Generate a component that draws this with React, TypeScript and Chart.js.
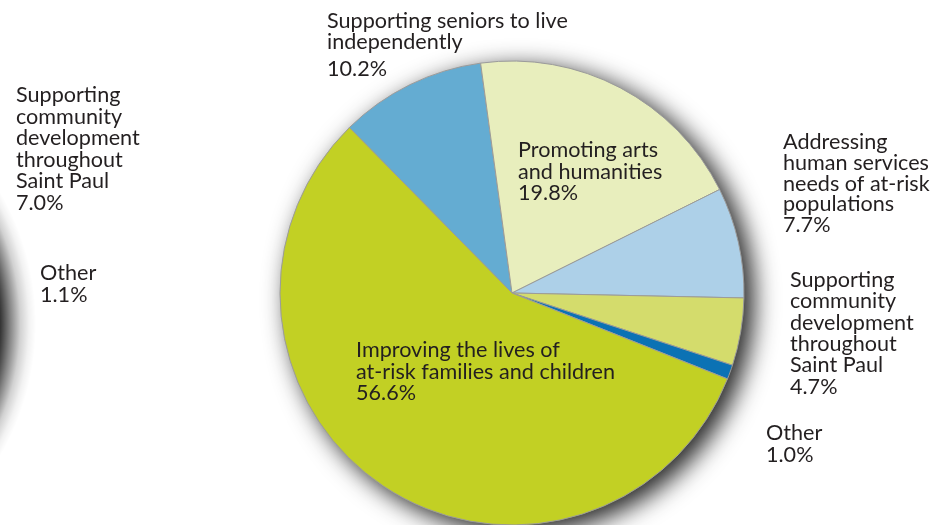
import React, { useEffect, useRef } from "react";
import { Chart, registerables } from "chart.js";

Chart.register(...registerables);

const categories = [
  "Supporting seniors to live independently",
  "Promoting arts and humanities",
  "Addressing human services needs of at-risk populations",
  "Supporting community development throughout Saint Paul",
  "Other",
  "Improving the lives of at-risk families and children",
];
const values = [10.2, 19.8, 7.7, 4.7, 1.0, 56.6];
const colors = ["#64acd2", "#e8eebd", "#add0e8", "#d4dc6c", "#0b72b4", "#c2d024"];

const labelLines = [
  ["Supporting seniors to live", "independently"],
  ["Promoting arts", "and humanities"],
  ["Addressing", "human services", "needs of at-risk", "populations"],
  ["Supporting", "community", "development", "throughout", "Saint Paul"],
  ["Other"],
  ["Improving the lives of", "at-risk families and children"],
];
const labelPercents = ["10.2%", "19.8%", "7.7%", "4.7%", "1.0%", "56.6%"];

// labels belonging to the neighbouring (cropped) chart on the left
const sideLines = [
  ["Supporting", "community", "development", "throughout", "Saint Paul"],
  ["Other"],
];
const sidePercents = ["7.0%", "1.1%"];

// layout positions (x, first baseline, line step, extra gap before percent)
const labelPos = [
  [327, 28, 21, 6],
  [518, 157, 21.5, 0],
  [783, 149, 20.8, 0],
  [790, 287, 21.3, 0],
  [766, 440, 22, 0],
  [356, 357, 21.5, 0],
];
const sidePos = [
  [16, 102, 21.5, 0],
  [40, 280, 22, 0],
];

const FONT = "21.6px Lato, 'DejaVu Sans', sans-serif";
const PIE_RADIUS = 232;

// soft drop shadow of the neighbouring (cropped) disc on the left
const discShadow = (ctx: any, x: number, y: number, r: number, w: number, h: number) => {
  const ox = x + 8;
  const oy = y + 6;
  const r0 = r - 16;
  const r1 = r + 30;
  const g = ctx.createRadialGradient(ox, oy, r0, ox, oy, r1);
  g.addColorStop(0, "rgba(0,0,0,0.92)");
  g.addColorStop(0.22, "rgba(0,0,0,0.8)");
  g.addColorStop(0.44, "rgba(0,0,0,0.48)");
  g.addColorStop(0.66, "rgba(0,0,0,0.18)");
  g.addColorStop(0.85, "rgba(0,0,0,0.05)");
  g.addColorStop(1, "rgba(0,0,0,0)");
  ctx.save();
  ctx.beginPath();
  ctx.rect(-50, -50, w + 100, h + 100);
  ctx.arc(x, y, r - 0.5, 0, Math.PI * 2, true);
  ctx.clip("evenodd");
  ctx.fillStyle = g;
  ctx.beginPath();
  ctx.arc(ox, oy, r1, 0, Math.PI * 2);
  ctx.fill();
  ctx.restore();
};

const labelPlugin = {
  id: "labels",
  afterDraw(chart: any) {
    const ctx = chart.ctx;
    discShadow(ctx, -234, 318, 232, chart.width, chart.height);
    ctx.save();
    ctx.font = FONT;
    ctx.fillStyle = "#231f20";
    ctx.textBaseline = "alphabetic";
    ctx.textAlign = "left";
    const drawBlock = (lines: string[], pct: string, pos: number[]) => {
      const [x, y0, step, gap] = pos;
      lines.forEach((l, i) => ctx.fillText(l, x, y0 + i * step));
      ctx.fillText(pct, x, y0 + lines.length * step + gap);
    };
    labelLines.forEach((lines, i) => drawBlock(lines, labelPercents[i], labelPos[i]));
    sideLines.forEach((lines, i) => drawBlock(lines, sidePercents[i], sidePos[i]));
    ctx.restore();
  },
};

export default function App() {
  const ref = useRef<HTMLCanvasElement | null>(null);
  const shadowRef = useRef<HTMLDivElement | null>(null);
  useEffect(() => {
    document.body.style.margin = "0";
    if (!ref.current) return;
    const chart = new Chart(ref.current, {
      type: "pie",
      data: {
        labels: categories,
        datasets: [
          {
            data: values,
            backgroundColor: colors,
            borderColor: "#9b9b9b",
            borderWidth: 1,
            hoverOffset: 0,
          },
        ],
      },
      options: {
        animation: false,
        responsive: false,
        rotation: -44.5,
        radius: PIE_RADIUS,
        layout: { padding: { left: 280, right: 202, top: 61, bottom: 0 } },
        plugins: { legend: { display: false }, tooltip: { enabled: false } },
      },
      plugins: [labelPlugin],
    });
    // place the drop-shadow disc under the pie, taken from the drawn arc
    const arc: any = chart.getDatasetMeta(0).data[0];
    const a = chart.chartArea;
    const cx = arc && isFinite(arc.x) ? arc.x : (a.left + a.right) / 2;
    const cy = arc && isFinite(arc.y) ? arc.y : (a.top + a.bottom) / 2;
    const r = arc && isFinite(arc.outerRadius) ? arc.outerRadius : PIE_RADIUS;
    const d = shadowRef.current;
    if (d) {
      d.style.left = cx - r + 1 + "px";
      d.style.top = cy - r + 1 + "px";
      d.style.width = 2 * r - 2 + "px";
      d.style.height = 2 * r - 2 + "px";
      d.style.display = "block";
    }
    return () => chart.destroy();
  }, []);
  return (
    <div style={{ position: "fixed", left: 0, top: 0, width: 946, height: 525, background: "#fff", overflow: "hidden" }}>
      <div
        ref={shadowRef}
        style={{
          position: "absolute",
          display: "none",
          borderRadius: "50%",
          background: "#c2d024",
          boxShadow: "9px 7px 24px 2px rgba(0,0,0,0.85)",
          zIndex: 0,
        }}
      />
      <canvas
        ref={ref}
        width={946}
        height={525}
        style={{ position: "absolute", left: 0, top: 0, width: 946, height: 525, display: "block", zIndex: 1 }}
      />
    </div>
  );
}
